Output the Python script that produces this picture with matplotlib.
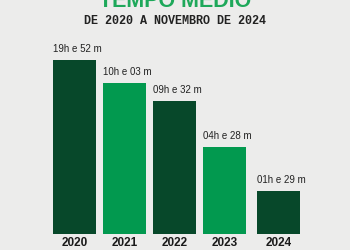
import matplotlib
matplotlib.use("Agg")
import matplotlib.pyplot as plt

years = ["2020", "2021", "2022", "2023", "2024"]
bar_heights = [174, 151, 133, 87, 43]  # bar heights as drawn (px-scale units)
labels = ["19h e 52 m", "10h e 03 m", "09h e 32 m", "04h e 28 m", "01h e 29 m"]
positions = [0, 1, 2, 3, 4.08]

dark = "#07482a"
bright = "#02994f"
colors = [dark, bright, dark, bright, dark]
bg = "#ececeb"

W, H = 350, 250
fig = plt.figure(figsize=(3.5, 2.5), dpi=100, facecolor=bg)
ax = fig.add_axes([0, 16 / H, 1, 174 / H])
ax.set_facecolor(bg)
ax.patch.set_alpha(0)
ax.set_xlim(-74.5 / 50, (350 - 74.5) / 50)
ax.set_ylim(0, 174)
ax.axis("off")

ax.bar(positions, bar_heights, width=0.86, color=colors)

for x, h, lab in zip(positions, bar_heights, labels):
    ax.text(x - 0.43, h + 6, lab, ha="left", va="bottom", fontsize=7,
            family="Liberation Sans", color="#222222", clip_on=False)

for x, y in zip(positions, years):
    ax.text(x, -9.5, y, ha="center", va="center", fontsize=8.5, fontweight="bold",
            family="Liberation Sans", color="#1a1a1a", clip_on=False)

fig.text(0.5, 1 - 7 / H, "TEMPO MÉDIO", ha="center", va="baseline",
         fontsize=15.5, fontweight="bold", family="Liberation Sans", color="#1ea85a")
fig.text(0.5, 1 - 21 / H, "DE 2020 A NOVEMBRO DE 2024", ha="center", va="center",
         fontsize=8.5, fontweight="bold", family="Liberation Mono", color="#222222")

fig.savefig("out.png", dpi=100, facecolor=bg)
